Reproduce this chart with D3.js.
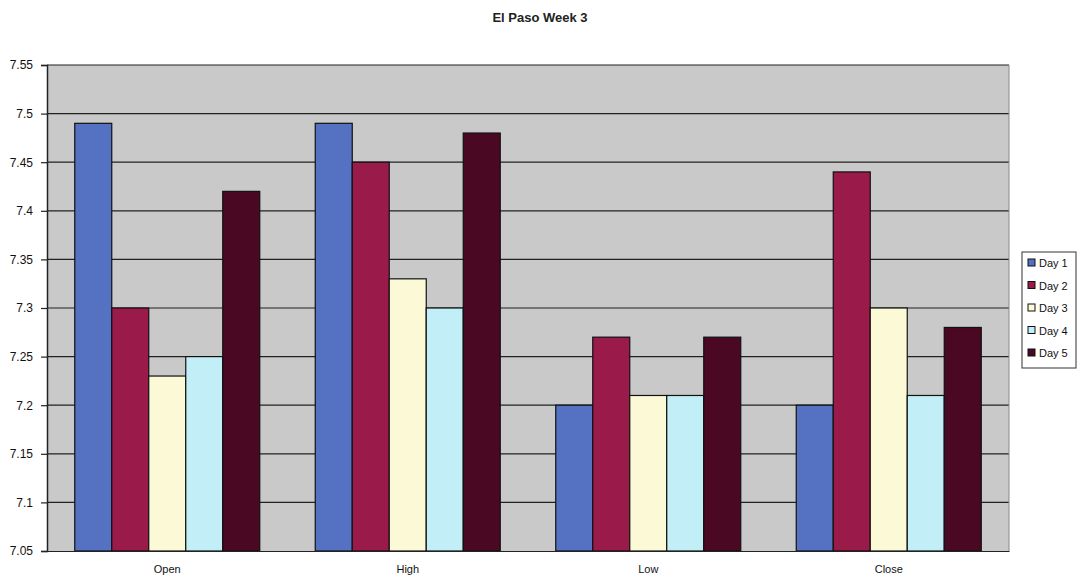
<!DOCTYPE html>
<html>
<head>
<meta charset="utf-8">
<script src="https://cdn.jsdelivr.net/npm/d3@7"></script>
<style>
  body { margin: 0; background: #fff; }
  svg { display: block; font-family: Arial, "Liberation Sans", sans-serif; }
</style>
</head>
<body>
<svg id="chart"></svg>
<script>
const categories = ["Open", "High", "Low", "Close"];
const seriesNames = ["Day 1", "Day 2", "Day 3", "Day 4", "Day 5"];
const day1 = [7.49, 7.49, 7.20, 7.20];
const day2 = [7.30, 7.45, 7.27, 7.44];
const day3 = [7.23, 7.33, 7.21, 7.30];
const day4 = [7.25, 7.30, 7.21, 7.21];
const day5 = [7.42, 7.48, 7.27, 7.28];
const yTicks = [7.05, 7.1, 7.15, 7.2, 7.25, 7.3, 7.35, 7.4, 7.45, 7.5, 7.55];
const colors = ["#5572c2", "#9a1a4a", "#fbf9d6", "#c2eef8", "#4a0822"];

const series = [day1, day2, day3, day4, day5];
const data = categories.map((c, i) => ({
    category: c,
    values: series.map((s, j) => ({ name: seriesNames[j], value: s[i] }))
}));

const W = 1084, H = 583;
const margin = { top: 65, right: 75, bottom: 32, left: 47 },
      width = 1009 - margin.left,
      height = 551 - margin.top;

const root = d3.select("#chart").attr("width", W).attr("height", H);

root.append("text")
    .attr("x", 540)
    .attr("y", 22)
    .attr("text-anchor", "middle")
    .style("font-size", "13px")
    .style("font-weight", "bold")
    .style("fill", "#222")
    .text("El Paso Week 3");

const svg = root.append("g")
    .attr("transform", `translate(${margin.left},${margin.top})`);

const x0 = d3.scaleBand().domain(categories).range([0, width]).paddingInner(0).paddingOuter(0);
const groupPad = x0.bandwidth() * (1.5 / 6.5) / 2;
const x1 = d3.scaleBand().domain(seriesNames)
    .range([groupPad, x0.bandwidth() - groupPad]).padding(0);
const y = d3.scaleLinear().domain([7.05, 7.55]).range([height, 0]);

svg.append("rect")
    .attr("width", width)
    .attr("height", height)
    .attr("fill", "#c9c9c9");

svg.append("g")
    .selectAll("line")
    .data(yTicks.slice(1))
    .enter().append("line")
    .attr("x1", 0).attr("x2", width)
    .attr("y1", d => y(d)).attr("y2", d => y(d))
    .attr("stroke", "#222")
    .attr("stroke-width", 1.2);

const groups = svg.selectAll(".grp")
    .data(data)
    .enter().append("g")
    .attr("class", "grp")
    .attr("transform", d => `translate(${x0(d.category)},0)`);

groups.selectAll("rect")
    .data(d => d.values)
    .enter().append("rect")
    .attr("x", d => x1(d.name))
    .attr("y", d => y(d.value))
    .attr("width", x1.bandwidth())
    .attr("height", d => height - y(d.value))
    .attr("fill", (d, i) => colors[i])
    .attr("stroke", "#111")
    .attr("stroke-width", 1.2);

const yAxis = svg.append("g")
    .call(d3.axisLeft(y).tickValues(yTicks).tickSize(6).tickPadding(8).tickFormat(d3.format("")));
yAxis.select(".domain").attr("stroke", "#222").attr("stroke-width", 1.5);
yAxis.selectAll(".tick line").attr("stroke", "#222").attr("stroke-width", 1.2);
yAxis.selectAll("text").style("font-size", "12px").style("fill", "#111")
    .style("font-family", "Arial, 'Liberation Sans', sans-serif");

const xAxis = svg.append("g")
    .attr("transform", `translate(0,${height})`)
    .call(d3.axisBottom(x0).tickSize(0).tickPadding(14));
xAxis.select(".domain").attr("stroke", "#222").attr("stroke-width", 1.2);
xAxis.selectAll("text").style("font-size", "11px").style("fill", "#111")
    .style("font-family", "Arial, 'Liberation Sans', sans-serif");

svg.append("line")
    .attr("x1", width).attr("x2", width)
    .attr("y1", 0).attr("y2", height)
    .attr("stroke", "#888");

// legend
const legend = root.append("g").attr("transform", "translate(1022,252)");
legend.append("rect")
    .attr("width", 54).attr("height", 116)
    .attr("fill", "#fff").attr("stroke", "#333");
const items = legend.selectAll(".item")
    .data(seriesNames)
    .enter().append("g")
    .attr("transform", (d, i) => `translate(6,${11 + i * 22.5})`);
items.append("rect")
    .attr("x", 0).attr("y", -4)
    .attr("width", 7).attr("height", 7)
    .attr("fill", (d, i) => colors[i])
    .attr("stroke", "#111");
items.append("text")
    .attr("x", 11).attr("y", 4)
    .style("font-size", "11px")
    .style("fill", "#111")
    .text(d => d);
</script>
</body>
</html>
